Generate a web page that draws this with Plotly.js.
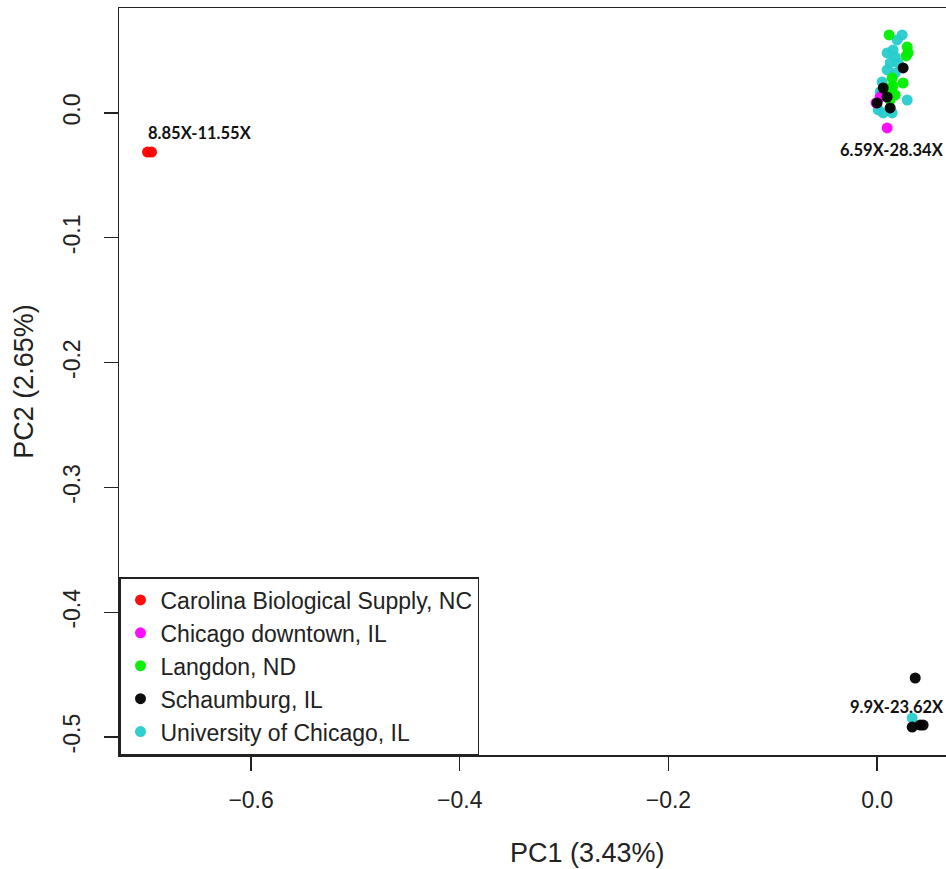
<!DOCTYPE html>
<html>
<head>
<meta charset="utf-8">
<script src="https://cdn.plot.ly/plotly-3.0.1.min.js"></script>
<style>html,body{margin:0;padding:0;background:#fff;}#chart{width:946px;height:869px;}</style>
</head>
<body>
<div id="chart"></div>
<script>
// Legend / group names
const groups = ["Carolina Biological Supply, NC", "Chicago downtown, IL", "Langdon, ND", "Schaumburg, IL", "University of Chicago, IL"];
const groupColors = ["#FF0000", "#FF00FF", "#00EE00", "#000000", "#26CCCC"];

// PC1 / PC2 values per group
const carolinaPC1 = [-0.6993, -0.6954];
const carolinaPC2 = [-0.0313, -0.0313];

const downtownPC1 = [0.0029, -0.0010, 0.0096];
const downtownPC2 = [0.0128, 0.0080, -0.0120];

const langdonPC1 = [0.0115, 0.0288, 0.0297, 0.0278, 0.0144, 0.0249, 0.0153, 0.0106, 0.0173, 0.0125, 0.0125];
const langdonPC2 = [0.0625, 0.0529, 0.0481, 0.0457, 0.0280, 0.0240, 0.0216, 0.0168, 0.0144, 0.0104, 0.0200];

const schaumburgPC1 = [0.0249, 0.0058, 0.0096, 0.0000, 0.0125, 0.0365, 0.0336, 0.0412, 0.0441];
const schaumburgPC2 = [0.0361, 0.0200, 0.0128, 0.0080, 0.0040, -0.4527, -0.4920, -0.4904, -0.4904];

const uchicagoPC1 = [0.0240, 0.0192, 0.0096, 0.0173, 0.0125, 0.0201, 0.0096, 0.0173, 0.0048, 0.0029, 0.0288, 0.0010, 0.0058, 0.0144, 0.0153, 0.0336];
const uchicagoPC2 = [0.0625, 0.0585, 0.0481, 0.0449, 0.0401, 0.0401, 0.0345, 0.0321, 0.0248, 0.0168, 0.0104, 0.0024, 0.0000, 0.0000, 0.0505, -0.4848];

// Coverage labels
const coverageText = ["8.85X-11.55X", "6.59X-28.34X", "9.9X-23.62X"];
const coverageX = [-0.6494, 0.0144, 0.0192];
const coverageY = [-0.0160, -0.0296, -0.4760];

const xTitle = "PC1 (3.43%)";
const yTitle = "PC2 (2.65%)";

const series = [
  {x: uchicagoPC1, y: uchicagoPC2, g: 4},
  {x: downtownPC1, y: downtownPC2, g: 1},
  {x: langdonPC1, y: langdonPC2, g: 2},
  {x: schaumburgPC1, y: schaumburgPC2, g: 3},
  {x: carolinaPC1, y: carolinaPC2, g: 0}
];

const traces = series.map(s => ({
  type: "scatter",
  mode: "markers",
  name: groups[s.g],
  x: s.x,
  y: s.y,
  legendrank: s.g + 1,
  marker: {color: groupColors[s.g], size: 11, opacity: 0.95}
}));

const axisFont = {family: "Liberation Sans, Arial, sans-serif", size: 23, color: "#222"};

const annotations = coverageText.map((t, i) => ({
  x: coverageX[i], y: coverageY[i], xref: "x", yref: "y",
  text: "<b>" + t + "</b>", showarrow: false,
  font: {family: "Lato, Open Sans, sans-serif", size: 16.5, color: "#111"},
  xanchor: "center", yanchor: "middle"
}));
annotations.push({
  x: 0.567, y: -0.131, xref: "paper", yref: "paper",
  text: xTitle, showarrow: false,
  font: {family: "Liberation Sans, Arial, sans-serif", size: 27, color: "#222"},
  xanchor: "center", yanchor: "middle"
});

const layout = {
  width: 946, height: 869,
  margin: {l: 119, r: 0, t: 8, b: 114, pad: 0},
  paper_bgcolor: "#fff", plot_bgcolor: "#fff",
  showlegend: true,
  legend: {
    x: 0, y: 0, xanchor: "left", yanchor: "bottom",
    bgcolor: "#fff", bordercolor: "#222", borderwidth: 1.5,
    font: {family: "Liberation Sans, Arial, sans-serif", size: 23, color: "#222"},
    traceorder: "normal"
  },
  xaxis: {
    range: [-0.7266, 0.066],
    tickvals: [-0.6, -0.4, -0.2, 0.0],
    ticktext: ["\u22120.6", "\u22120.4", "\u22120.2", "0.0"],
    ticks: "outside", ticklen: 14, tickwidth: 1.3, tickcolor: "#222",
    showgrid: false, zeroline: false,
    showline: true, linecolor: "#222", linewidth: 1.5, mirror: true,
    tickfont: axisFont, ticklabelstandoff: 10
  },
  yaxis: {
    range: [-0.5144, 0.0841],
    tickvals: [0.0, -0.1, -0.2, -0.3, -0.4, -0.5],
    ticktext: ["0.0", "-0.1", "-0.2", "-0.3", "-0.4", "-0.5"],
    tickangle: -90,
    ticks: "outside", ticklen: 14, tickwidth: 1.3, tickcolor: "#222",
    showgrid: false, zeroline: false,
    showline: true, linecolor: "#222", linewidth: 1.5, mirror: true,
    tickfont: axisFont, ticklabelstandoff: 14,
    title: {text: yTitle, font: {family: "Liberation Sans, Arial, sans-serif", size: 27, color: "#222"}, standoff: 18}
  },
  annotations: annotations
};

Plotly.newPlot("chart", traces, layout, {displayModeBar: false, staticPlot: true});
</script>
</body>
</html>
